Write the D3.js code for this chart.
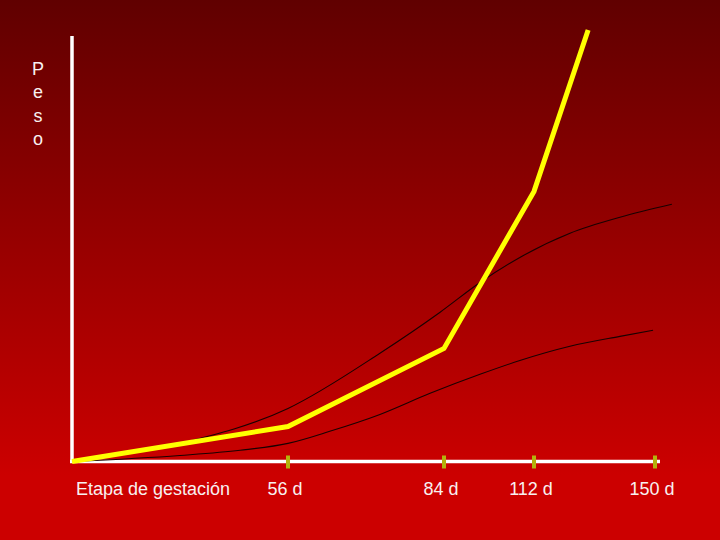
<!DOCTYPE html>
<html>
<head>
<meta charset="utf-8">
<script src="https://cdn.jsdelivr.net/npm/d3@7"></script>
<style>
  body { margin: 0; padding: 0; overflow: hidden; }
  text { font-family: "Liberation Sans", Arial, sans-serif; }
</style>
</head>
<body>
<div id="plotdiv"></div>
<script>
// days of gestation shown on the axis
var tickDays = [56, 84, 112, 150];
var tickLabels = ["56 d", "84 d", "112 d", "150 d"];

// yellow line (actual weight), days / relative weight
var yellowDays = [0, 56, 84, 112, 129];
var yellowVals = [0, 8.1, 26.2, 62.6, 100];

// upper black curve
var upperDays = [0, 28, 56, 72.5, 83.3, 95.2, 107.6, 123.3, 139, 155.3];
var upperVals = [0, 4.2, 12.3, 25.1, 34.6, 41.5, 47.3, 52.9, 56.6, 59.6];

// lower black curve
var lowerDays = [0, 28, 43.6, 56, 63.5, 72.5, 81.5, 95.2, 107.6, 123.3, 139, 149.4];
var lowerVals = [0, 1.4, 2.6, 4.2, 7.0, 10.9, 15.8, 20.2, 23.4, 26.7, 29.0, 30.4];

var yLabel = "Peso";
var xTitle = "Etapa de gestación";

function drawChart()
{
	var width = 720;
	var height = 540;

	var svg = d3.select("#plotdiv")
		.append("svg")
		.attr("width", width)
		.attr("height", height);

	// background gradient
	var grad = svg.append("defs").append("linearGradient")
		.attr("id", "bg")
		.attr("x1", 0).attr("y1", 0)
		.attr("x2", 0).attr("y2", 1);
	grad.append("stop").attr("offset", "0%").attr("stop-color", "#600000");
	grad.append("stop").attr("offset", "88%").attr("stop-color", "#cc0000");
	grad.append("stop").attr("offset", "100%").attr("stop-color", "#cc0000");
	svg.append("rect")
		.attr("width", width)
		.attr("height", height)
		.attr("fill", "url(#bg)");

	// x axis is not evenly spaced in the original, so a piecewise scale
	var x = d3.scaleLinear()
		.domain([0, 56, 84, 112, 150])
		.range([72, 288, 444, 534, 655]);
	var y = d3.scaleLinear()
		.domain([0, 100])
		.range([461.5, 30]);

	var line = d3.line()
		.x(function(d){return x(d[0]);})
		.y(function(d){return y(d[1]);});
	var smooth = d3.line()
		.x(function(d){return x(d[0]);})
		.y(function(d){return y(d[1]);})
		.curve(d3.curveMonotoneX);

	// axes
	svg.append("line")
		.attr("x1", 72).attr("x2", 72)
		.attr("y1", 36).attr("y2", 463)
		.attr("stroke", "white")
		.attr("stroke-width", 3.5);
	svg.append("line")
		.attr("x1", 70).attr("x2", x(150) + 5)
		.attr("y1", y(0)).attr("y2", y(0))
		.attr("stroke", "white")
		.attr("stroke-width", 3.5);

	svg.selectAll(".tick")
		.data(tickDays)
		.enter().append("line")
		.attr("class", "tick")
		.attr("x1", function(d){return x(d);})
		.attr("x2", function(d){return x(d);})
		.attr("y1", y(0) - 6)
		.attr("y2", y(0) + 7)
		.attr("stroke", "#b4b40c")
		.attr("stroke-width", 4);

	// curves
	svg.append("path")
		.attr("d", smooth(d3.zip(upperDays, upperVals)))
		.attr("fill", "none")
		.attr("stroke", "#1a0000")
		.attr("stroke-width", 1.1);
	svg.append("path")
		.attr("d", smooth(d3.zip(lowerDays, lowerVals)))
		.attr("fill", "none")
		.attr("stroke", "#1a0000")
		.attr("stroke-width", 1.1);
	svg.append("path")
		.attr("d", line(d3.zip(yellowDays, yellowVals)))
		.attr("fill", "none")
		.attr("stroke", "#ffff00")
		.attr("stroke-width", 5)
		.attr("stroke-linejoin", "miter");

	// labels
	svg.selectAll(".xlab")
		.data(tickLabels)
		.enter().append("text")
		.attr("class", "xlab")
		.attr("x", function(d, i){return x(tickDays[i]) - 3;})
		.attr("y", 495)
		.attr("text-anchor", "middle")
		.attr("fill", "#f8f0f0")
		.style("font-size", "18px")
		.text(function(d){return d;});

	svg.append("text")
		.attr("x", 76)
		.attr("y", 495)
		.attr("fill", "#f8f0f0")
		.style("font-size", "18px")
		.text(xTitle);

	var yl = svg.append("text")
		.attr("fill", "#f8f0f0")
		.attr("text-anchor", "middle")
		.style("font-size", "18px");
	yl.selectAll("tspan")
		.data(yLabel.split(""))
		.enter().append("tspan")
		.attr("x", 38)
		.attr("y", function(d, i){return 75 + i * 23.3;})
		.text(function(d){return d;});
}

drawChart();
</script>
</body>
</html>
